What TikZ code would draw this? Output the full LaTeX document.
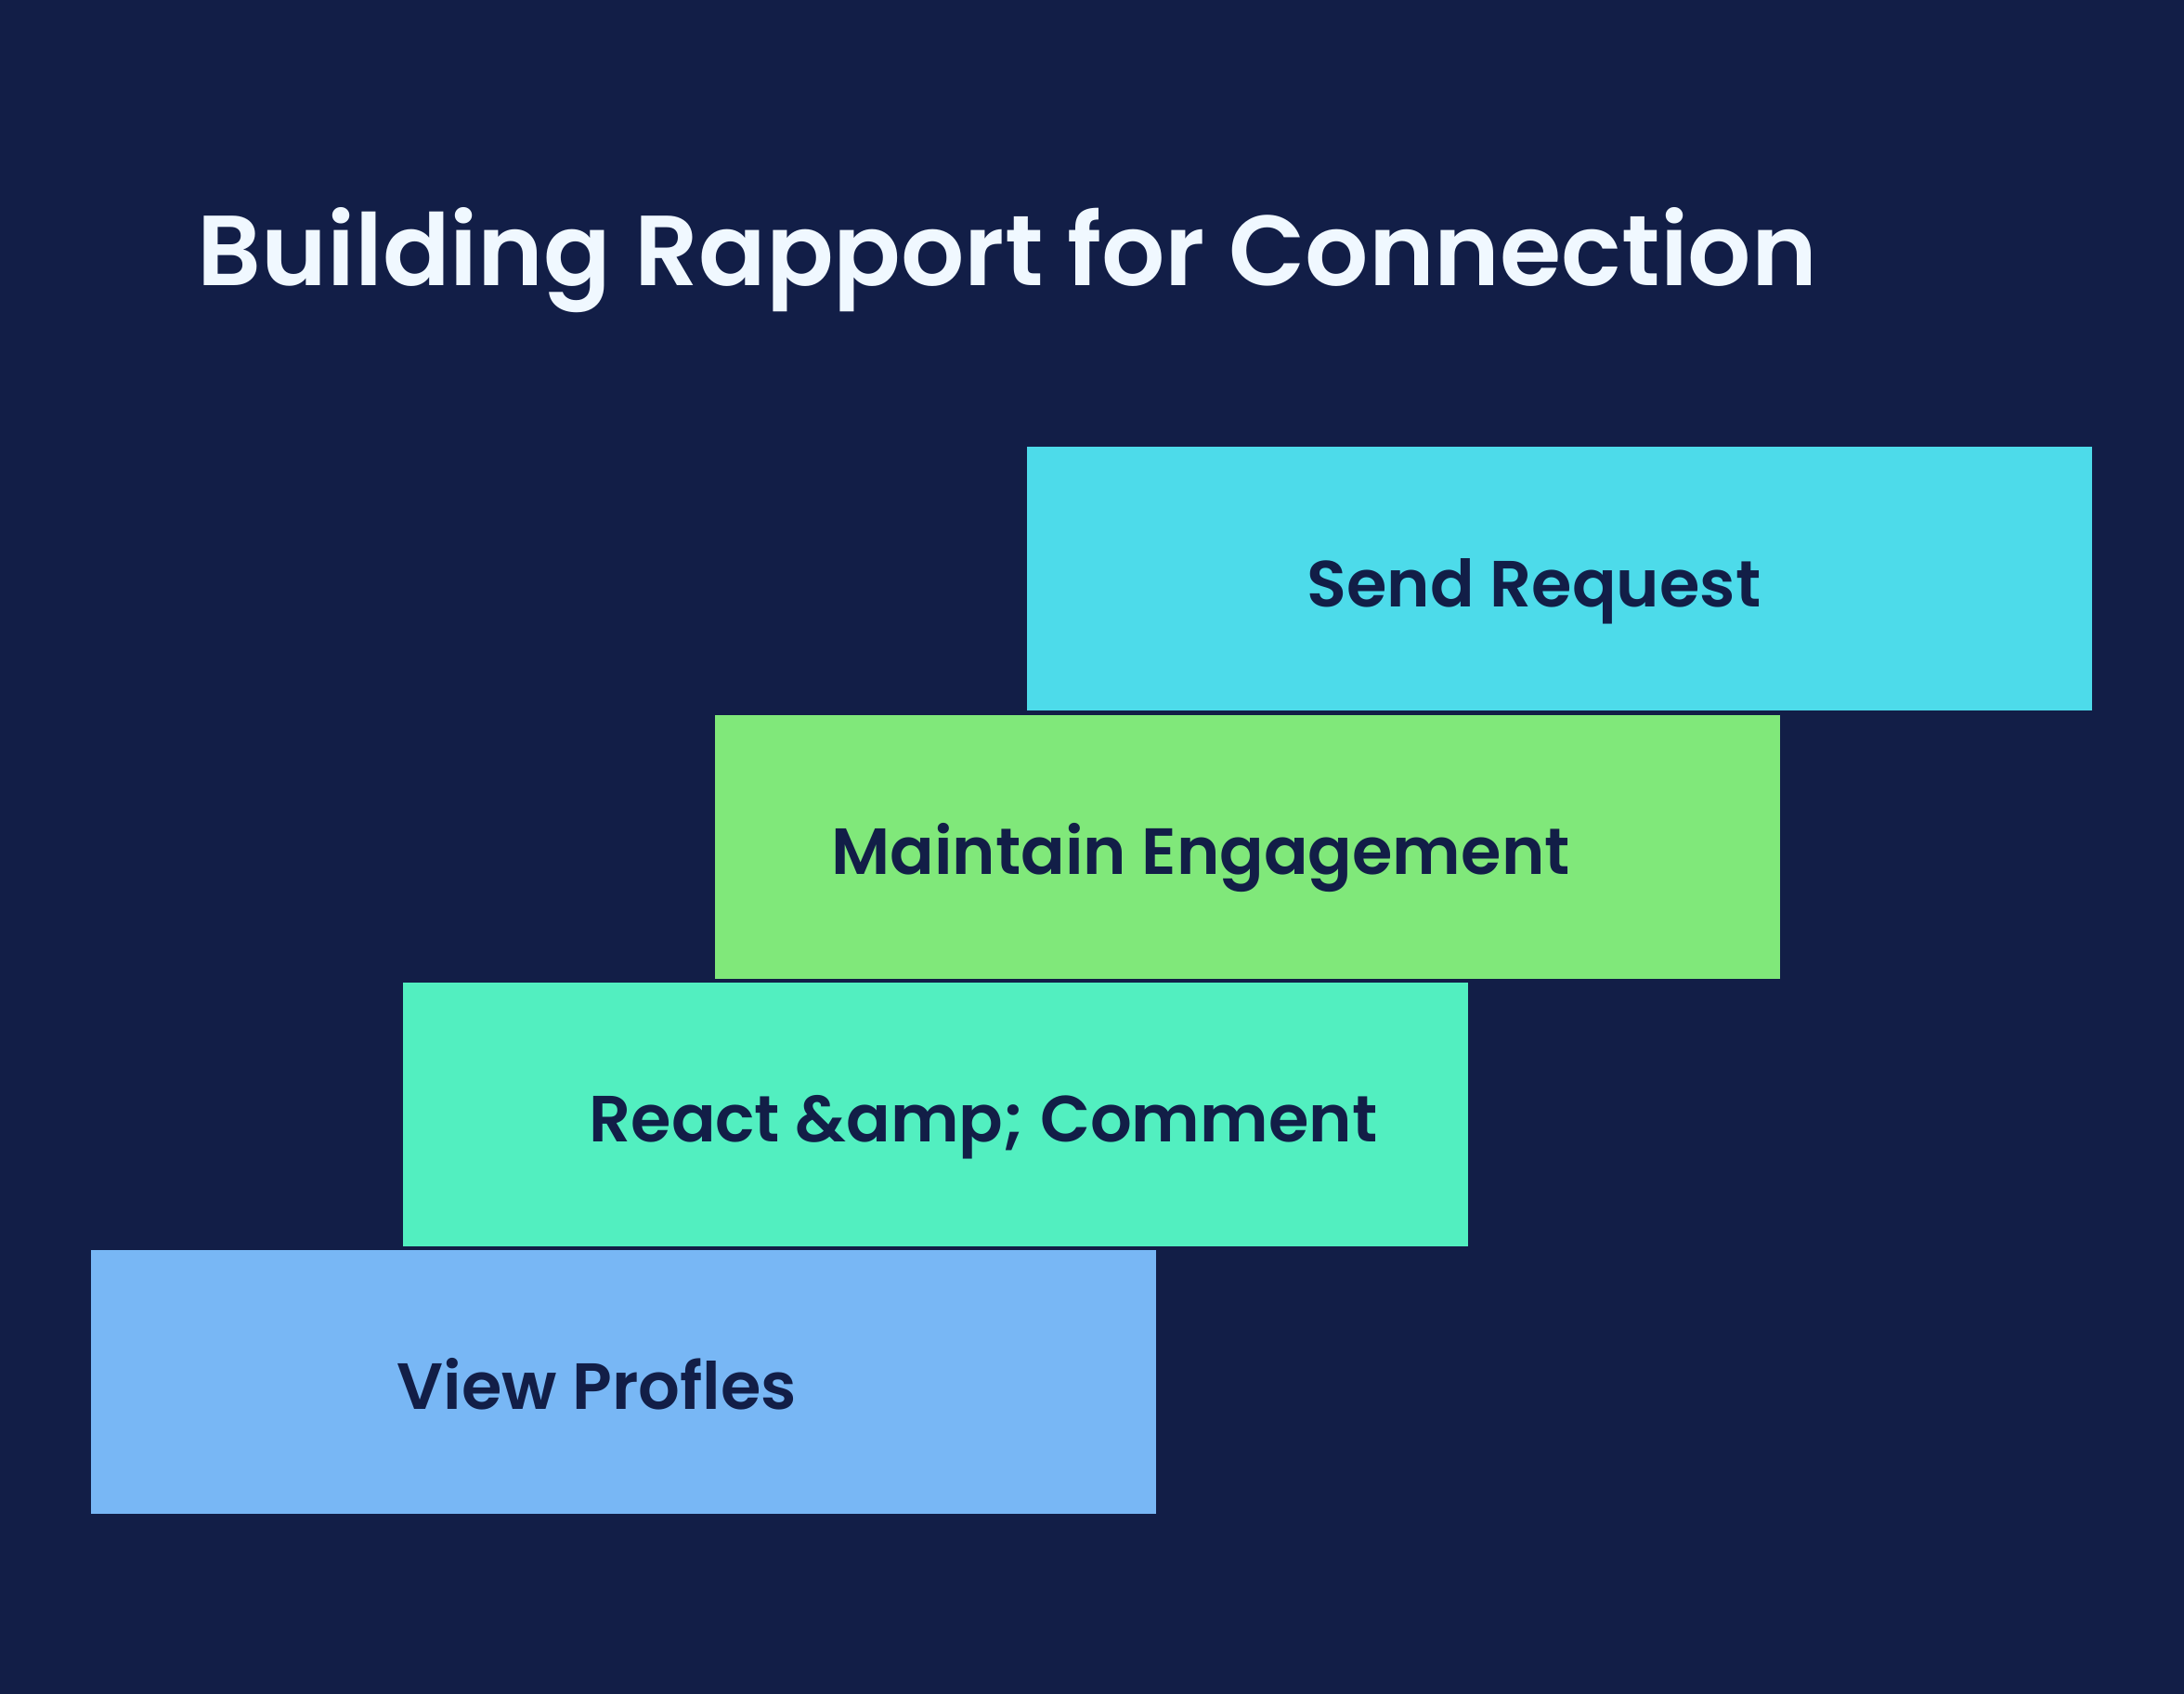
\documentclass[tikz,border=0pt]{standalone}
\usepackage{xcolor}
\usepackage{fontspec}
\setmainfont{Poppins}[BoldFont={Poppins SemiBold}]
\usepackage{tikz}
\usetikzlibrary{positioning, calc}

\definecolor{navy}{HTML}{121E47}
\definecolor{titlewhite}{HTML}{F0F8FF}
\definecolor{skycyan}{HTML}{4DDBEA}
\definecolor{limegreen}{HTML}{80E87A}
\definecolor{mintgreen}{HTML}{52EFC0}
\definecolor{softblue}{HTML}{78B7F5}

\tikzset{
    stepbox/.style={minimum width=11.47cm, minimum height=2.84cm, inner sep=0pt},
    steplabel/.style={anchor=base, text=navy, font=\fontsize{20}{24}\selectfont\bfseries, inner sep=0pt}
}

\begin{document}
\begin{tikzpicture}
    \fill[navy] (0, 0) rectangle (23.52, 18.24);
    \useasboundingbox (0, 0) rectangle (23.52, 18.24);
    \node[anchor=base west, text=titlewhite, inner sep=0pt, font=\fontsize{30.5}{36}\selectfont\bfseries] (title) at (2.12, 15.16) {Building Rapport for Connection};
    \foreach \x/\y/\dx/\col/\name/\txt in {6.715/3.36/-0.285/softblue/view/View Profles, 10.075/6.24/0.515/mintgreen/react/React \&amp; Comment, 13.435/9.12/-0.505/limegreen/maintain/Maintain Engagement, 16.795/12.005/-0.275/skycyan/send/Send Request} {
        \node[stepbox, fill=\col] (\name) at (\x, \y) {};
        \node[steplabel] (\name label) at ($(\name.center) + (\dx, -0.30)$) {\txt};
    }
\end{tikzpicture}
\end{document}
